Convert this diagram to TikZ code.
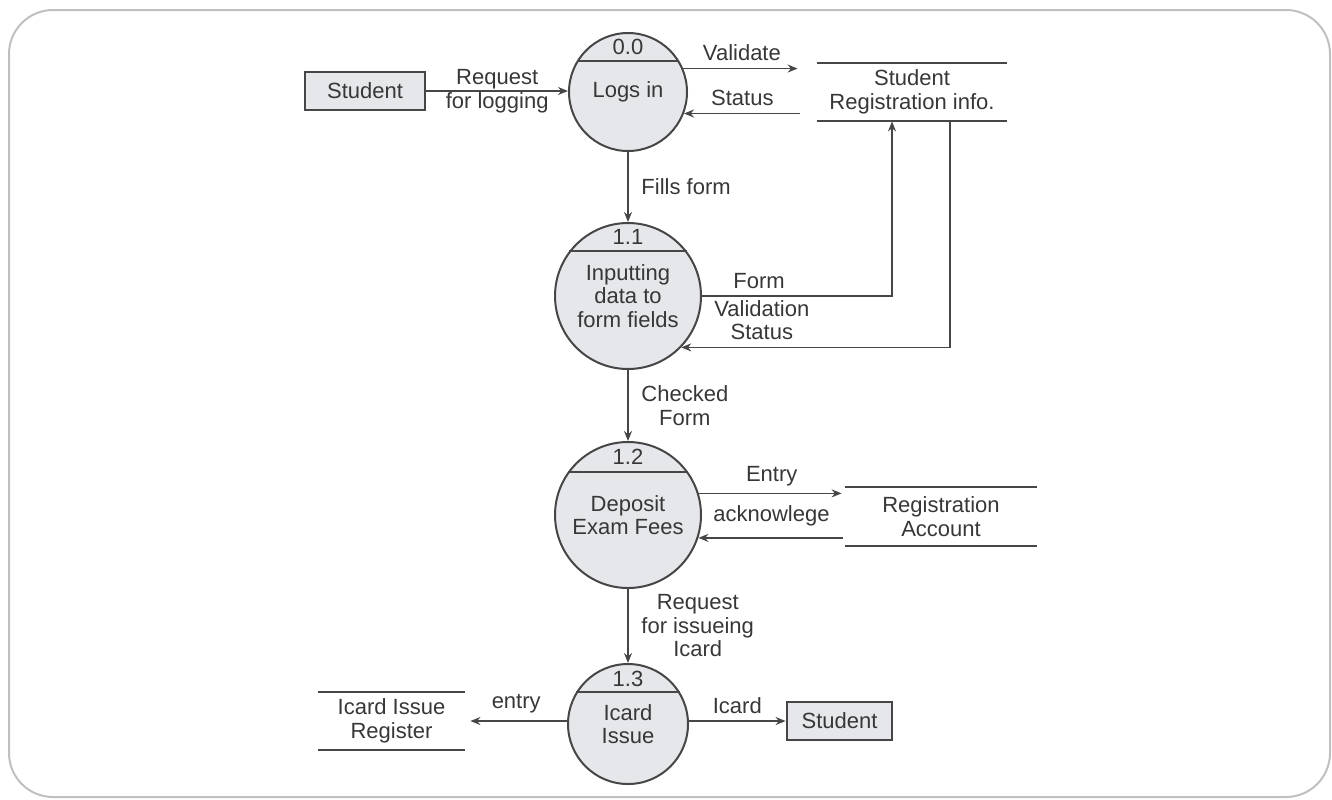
\documentclass[tikz,border=0pt]{standalone}
\usepackage{fontspec}
\setmainfont{Liberation Sans}
\usetikzlibrary{arrows.meta,calc}

\definecolor{inkgray}{RGB}{70,70,70}
\definecolor{txtgray}{RGB}{55,55,55}
\definecolor{fillgray}{RGB}{229,231,234}
\definecolor{framegray}{RGB}{192,192,192}

\tikzset{
  proc/.style={circle, draw=inkgray, line width=1pt, fill=fillgray, inner sep=0pt, align=center},
  proc line/.style={draw=inkgray, line width=1pt},
  entity/.style={draw=inkgray, line width=1.4pt, fill=fillgray, minimum height=19pt, inner sep=0pt},
  store/.style={minimum height=29pt, inner sep=0pt, align=center},
  store line/.style={draw=inkgray, line width=1pt},
  flow/.style={->, draw=inkgray, line width=0.8pt},
  lbl/.style={align=center},
}

\begin{document}
\begin{tikzpicture}[x=0.5pt, y=-0.5pt, >={Stealth[length=5pt,width=4pt]},
    font=\fontsize{11}{11.75}\selectfont, text=txtgray]
  \useasboundingbox (0,0) rectangle (1332,799);
  \draw[framegray, line width=1pt, rounded corners=22pt] (9,10) rectangle (1330,797);

  % processes
  \node[proc, minimum size=59pt] (p0) at (628,92) {Logs in};
  \node[proc, minimum size=73pt] (p1) at (628,296) {Inputting\\data to\\form fields};
  \node[proc, minimum size=73pt] (p2) at (628,515) {Deposit\\Exam Fees};
  \node[proc, minimum size=60pt] (p3) at (628,724) {Icard\\Issue};
  \draw[proc line] (p0.31) -- (p0.149);
  \draw[proc line] (p1.37) -- (p1.143);
  \draw[proc line] (p2.36) -- (p2.144);
  \draw[proc line] (p3.32) -- (p3.148);
  \node (n0) at (628,47) {0.0};
  \node (n1) at (628,237) {1.1};
  \node (n2) at (628,457) {1.2};
  \node (n3) at (628,679) {1.3};

  % entities and stores
  \node[entity, minimum width=60pt] (e1) at (365,91) {Student};
  \node[entity, minimum width=52.5pt] (e2) at (839.5,721) {Student};
  \node[store, minimum width=95pt] (s1) at (912,92) {Student\\Registration info.};
  \node[store, minimum width=96pt, minimum height=29.5pt] (s2) at (941,516.5) {Registration\\Account};
  \node[store, minimum width=73.5pt] (s3) at (391.5,721) {Icard Issue\\Register};
  \foreach \s in {s1,s2,s3} {
    \draw[store line] (\s.north west) -- (\s.north east);
    \draw[store line] (\s.south west) -- (\s.south east);
  }

  % flows
  \draw[flow] (e1.east) -- (p0.west |- e1.east) node[lbl, midway] {Request\\for logging};
  \draw[flow, shorten >=9.5pt] (p0.23) -- (p0.23 -| s1.west) node[lbl, pos=0.44, above] {Validate};
  \draw[flow, <-, shorten >=8.5pt] (p0.-21) -- (p0.-21 -| s1.west) node[lbl, pos=0.44, above] {Status};
  \draw[flow] (p0) -- (p1) node[lbl, midway, right=3pt] {Fills form};
  \draw[flow] (p1.east) -| ($(s1.south)+(-20,0)$) node[lbl, pos=0.15, above] {Form};
  \draw[flow] ($(s1.south)+(38,0)$) |- (p1.-44) node[lbl, pos=0.85, above] {Validation\\Status};
  \draw[flow] (p1) -- (p2) node[lbl, midway, right=3pt] {Checked\\Form};
  \draw[flow, shorten >=1.5pt] (p2.17) -- (p2.17 -| s2.west) node[lbl, midway, above] {Entry};
  \draw[flow, <-, shorten >=1pt] (p2.-18) -- (p2.-18 -| s2.west) node[lbl, midway, above=2pt] {acknowlege};
  \draw[flow] (p2) -- (p3) node[lbl, midway, right=3pt] {Request\\for issueing\\Icard};
  \draw[flow, shorten >=2.5pt] (s3.east -| p3.west) -- (s3.east) node[lbl, midway, above] {entry};
  \draw[flow] (e2.west -| p3.east) -- (e2.west) node[lbl, midway, above] {Icard};
\end{tikzpicture}
\end{document}
